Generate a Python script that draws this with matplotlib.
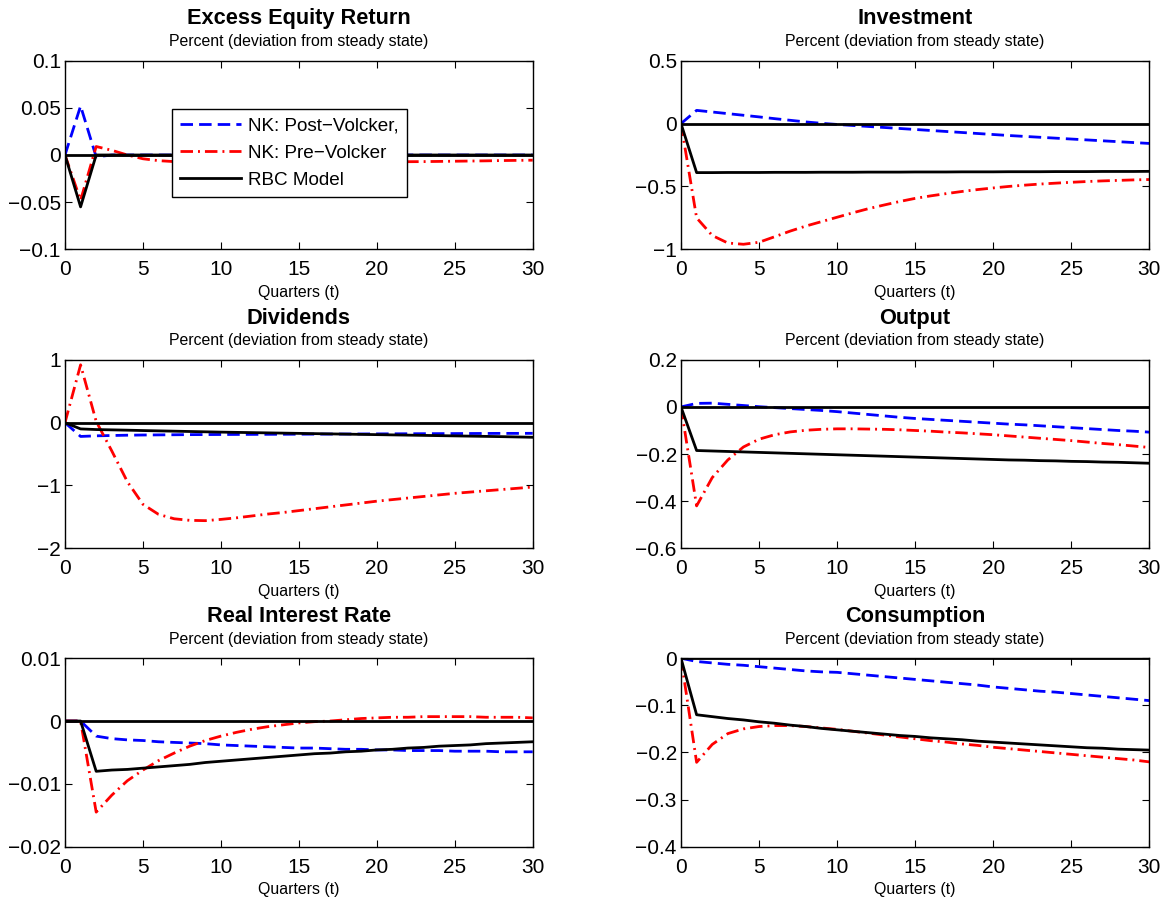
import matplotlib
matplotlib.use("Agg")
import matplotlib.pyplot as plt
import numpy as np

plt.rcParams['font.family'] = ['Liberation Sans', 'DejaVu Sans']

quarters = list(range(31))

titles = ["Excess Equity Return", "Investment", "Dividends", "Output",
          "Real Interest Rate", "Consumption"]
subtitle = "Percent (deviation from steady state)"
xlabel = "Quarters (t)"
series_names = ["NK: Post\u2212Volcker,", "NK: Pre\u2212Volcker", "RBC Model"]

# ---- Excess Equity Return ----
eq_post = [0, 0.052, -0.002, 0.0, 0.0, 0.0, 0.0, 0.0, 0.0, 0.0, 0.0, 0.0, 0.0, 0.0, 0.0, 0.0,
           0.0, 0.0, 0.0, 0.0, 0.0, 0.0, 0.0, 0.0, 0.0, 0.0, 0.0, 0.0, 0.0, 0.0, 0.0]
eq_pre = [0, -0.048, 0.009, 0.005, 0.0, -0.004, -0.006, -0.007, -0.0075, -0.0078, -0.0079, -0.0079,
          -0.0078, -0.0078, -0.0077, -0.0077, -0.0076, -0.0075, -0.0074, -0.0073, -0.0072, -0.0071,
          -0.0071, -0.0070, -0.0068, -0.0066, -0.0064, -0.0062, -0.0059, -0.0057, -0.0055]
eq_rbc = [0, -0.055, 0.0, 0.0, 0.0, 0.0, 0.0, 0.0, 0.0, 0.0, 0.0, 0.0, 0.0, 0.0, 0.0, 0.0,
          0.0, 0.0, 0.0, 0.0, 0.0, 0.0, 0.0, 0.0, 0.0, 0.0, 0.0, 0.0, 0.0, 0.0, 0.0]

# ---- Investment ----
inv_post = [0, 0.105, 0.092, 0.079, 0.066, 0.053, 0.039, 0.026, 0.013, 0.002, -0.007, -0.015,
            -0.023, -0.031, -0.039, -0.047, -0.055, -0.063, -0.071, -0.079, -0.087, -0.095,
            -0.102, -0.109, -0.116, -0.123, -0.130, -0.137, -0.144, -0.151, -0.158]
inv_pre = [0, -0.75, -0.89, -0.95, -0.96, -0.944, -0.90, -0.855, -0.815, -0.78, -0.745, -0.71,
           -0.677, -0.648, -0.62, -0.595, -0.575, -0.557, -0.54, -0.525, -0.512, -0.50, -0.49,
           -0.481, -0.474, -0.467, -0.461, -0.456, -0.452, -0.448, -0.445]
inv_rbc = [0, -0.390, -0.390, -0.389, -0.389, -0.389, -0.388, -0.388, -0.388, -0.387, -0.387,
           -0.387, -0.386, -0.386, -0.386, -0.385, -0.385, -0.385, -0.384, -0.384, -0.384,
           -0.383, -0.383, -0.383, -0.382, -0.382, -0.382, -0.381, -0.381, -0.381, -0.380]

# ---- Dividends ----
div_post = [0, -0.22, -0.21, -0.205, -0.20, -0.197, -0.195, -0.193, -0.191, -0.19, -0.189,
            -0.188, -0.187, -0.186, -0.185, -0.184, -0.183, -0.182, -0.181, -0.180, -0.179,
            -0.178, -0.177, -0.176, -0.175, -0.174, -0.173, -0.172, -0.171, -0.171, -0.170]
div_pre = [0, 0.92, 0.02, -0.45, -0.94, -1.30, -1.46, -1.53, -1.555, -1.56, -1.54, -1.515,
           -1.485, -1.455, -1.43, -1.40, -1.37, -1.34, -1.31, -1.28, -1.25, -1.225, -1.20,
           -1.175, -1.15, -1.125, -1.105, -1.085, -1.065, -1.045, -1.025]
div_rbc = [0, -0.10, -0.11, -0.115, -0.12, -0.126, -0.131, -0.136, -0.141, -0.146, -0.151,
           -0.155, -0.159, -0.163, -0.167, -0.171, -0.175, -0.179, -0.183, -0.187, -0.191,
           -0.195, -0.199, -0.203, -0.207, -0.211, -0.215, -0.219, -0.223, -0.228, -0.233]

# ---- Output ----
out_post = [0, 0.015, 0.016, 0.011, 0.006, 0.001, -0.003, -0.007, -0.011, -0.015, -0.02,
            -0.026, -0.032, -0.038, -0.044, -0.049, -0.053, -0.057, -0.061, -0.065, -0.069,
            -0.073, -0.076, -0.080, -0.084, -0.088, -0.092, -0.096, -0.100, -0.103, -0.107]
out_pre = [0, -0.42, -0.30, -0.225, -0.17, -0.137, -0.118, -0.106, -0.099, -0.095, -0.093,
           -0.093, -0.094, -0.095, -0.097, -0.10, -0.103, -0.107, -0.11, -0.114, -0.118,
           -0.123, -0.128, -0.133, -0.138, -0.143, -0.149, -0.155, -0.16, -0.166, -0.172]
out_rbc = [0, -0.185, -0.187, -0.189, -0.191, -0.193, -0.195, -0.197, -0.199, -0.201, -0.203,
           -0.205, -0.207, -0.209, -0.211, -0.213, -0.215, -0.217, -0.219, -0.221, -0.223,
           -0.225, -0.226, -0.228, -0.229, -0.231, -0.232, -0.234, -0.235, -0.237, -0.239]

# ---- Real Interest Rate ----
rr_post = [0, 0, -0.0024, -0.0028, -0.0030, -0.0031, -0.0033, -0.0034, -0.0035, -0.0036,
           -0.0038, -0.0039, -0.0040, -0.0041, -0.0042, -0.0043, -0.0043, -0.0044, -0.0045,
           -0.0045, -0.0046, -0.0046, -0.0047, -0.0047, -0.0047, -0.0048, -0.0048, -0.0048,
           -0.0049, -0.0049, -0.0049]
rr_pre = [0, 0, -0.0145, -0.0118, -0.0095, -0.0078, -0.0063, -0.0051, -0.0040, -0.0031,
          -0.0024, -0.0018, -0.0013, -0.0009, -0.0006, -0.0003, -0.0001, 0.0000, 0.0002,
          0.0004, 0.0005, 0.0006, 0.0006, 0.0007, 0.0007, 0.0007, 0.0007, 0.0006, 0.0006,
          0.0006, 0.0005]
rr_rbc = [0, 0, -0.0080, -0.0078, -0.0077, -0.0075, -0.0073, -0.0071, -0.0069, -0.0066,
          -0.0064, -0.0062, -0.0060, -0.0058, -0.0056, -0.0054, -0.0052, -0.0051, -0.0049,
          -0.0048, -0.0046, -0.0045, -0.0043, -0.0042, -0.0040, -0.0039, -0.0038, -0.0036,
          -0.0035, -0.0034, -0.0033]

# ---- Consumption ----
con_post = [0, -0.007, -0.010, -0.013, -0.015, -0.018, -0.021, -0.024, -0.027, -0.029, -0.030,
            -0.033, -0.036, -0.039, -0.042, -0.045, -0.048, -0.051, -0.054, -0.057, -0.061,
            -0.064, -0.067, -0.070, -0.072, -0.075, -0.078, -0.081, -0.084, -0.087, -0.090]
con_pre = [0, -0.221, -0.183, -0.16, -0.15, -0.145, -0.143, -0.143, -0.145, -0.148, -0.151,
           -0.155, -0.159, -0.163, -0.167, -0.171, -0.175, -0.178, -0.182, -0.185, -0.189,
           -0.192, -0.195, -0.198, -0.201, -0.204, -0.207, -0.210, -0.213, -0.216, -0.220]
con_rbc = [0, -0.12, -0.124, -0.128, -0.131, -0.135, -0.138, -0.142, -0.145, -0.149, -0.152,
           -0.155, -0.158, -0.161, -0.164, -0.166, -0.169, -0.171, -0.173, -0.176, -0.178,
           -0.180, -0.182, -0.184, -0.186, -0.188, -0.190, -0.191, -0.193, -0.194, -0.195]

yticks = [
    [-0.1, -0.05, 0, 0.05, 0.1],
    [-1, -0.5, 0, 0.5],
    [-2, -1, 0, 1],
    [-0.6, -0.4, -0.2, 0, 0.2],
    [-0.02, -0.01, 0, 0.01],
    [-0.4, -0.3, -0.2, -0.1, 0],
]
xticks = [0, 5, 10, 15, 20, 25, 30]

panels = [
    (eq_post, eq_pre, eq_rbc),
    (inv_post, inv_pre, inv_rbc),
    (div_post, div_pre, div_rbc),
    (out_post, out_pre, out_rbc),
    (rr_post, rr_pre, rr_rbc),
    (con_post, con_pre, con_rbc),
]

W, H = 1164, 897
fig = plt.figure(figsize=(W / 100, H / 100), dpi=100)

lefts = [65, 681]
rights = [532.7, 1149.3]
tops = [60.7, 359.8, 658.2]
bottoms = [249.3, 548.3, 846.7]


def fmt(v):
    s = "%g" % v
    return s.replace("-", "\u2212")


lw = 2.0
for i, (post, pre, rbc) in enumerate(panels):
    r, c = divmod(i, 2)
    l, rr = lefts[c], rights[c]
    t, b = tops[r], bottoms[r]
    ax = fig.add_axes([l / W, 1 - b / H, (rr - l) / W, (b - t) / H])
    ax.plot(quarters, post, color='#0000ff', lw=lw, dashes=(4.5, 2.2), label=series_names[0])
    ax.plot(quarters, pre, color='#ff0000', lw=lw, dashes=(4.5, 1.8, 0.7, 1.8), label=series_names[1])
    ax.plot(quarters, rbc, color='black', lw=lw, label=series_names[2])
    ax.axhline(0, color='black', lw=lw)
    ax.set_xlim(0, 30)
    yt = yticks[i]
    ax.set_ylim(yt[0], yt[-1])
    ax.set_yticks(yt)
    ax.set_yticklabels([fmt(v) for v in yt])
    ax.set_xticks(xticks)
    ax.set_xticklabels([fmt(v) for v in xticks])
    ax.tick_params(direction='in', top=True, right=True, length=5, width=0.8,
                   labelsize=15)
    ax.tick_params(axis='x', pad=8)
    ax.tick_params(axis='y', pad=3)
    for sp in ax.spines.values():
        sp.set_linewidth(1.0)
    ax.set_xlabel(xlabel, fontsize=11.4, labelpad=4)
    ax.set_title(subtitle, fontsize=11.4, pad=10.5)
    ax.text(0.5, 1.0 + 41.7 / (b - t), titles[i], transform=ax.transAxes,
            ha='center', va='center', fontsize=15.7, fontweight='bold')
    if i == 0:
        ax.legend(loc='upper left', bbox_to_anchor=(0.228, 0.7435), fontsize=13.6,
                  handlelength=3.2, handletextpad=0.37, labelspacing=0.52,
                  borderpad=0.45, borderaxespad=0, fancybox=False, framealpha=1,
                  edgecolor='black').get_frame().set_linewidth(1.0)

fig.savefig("out.png", dpi=100)
